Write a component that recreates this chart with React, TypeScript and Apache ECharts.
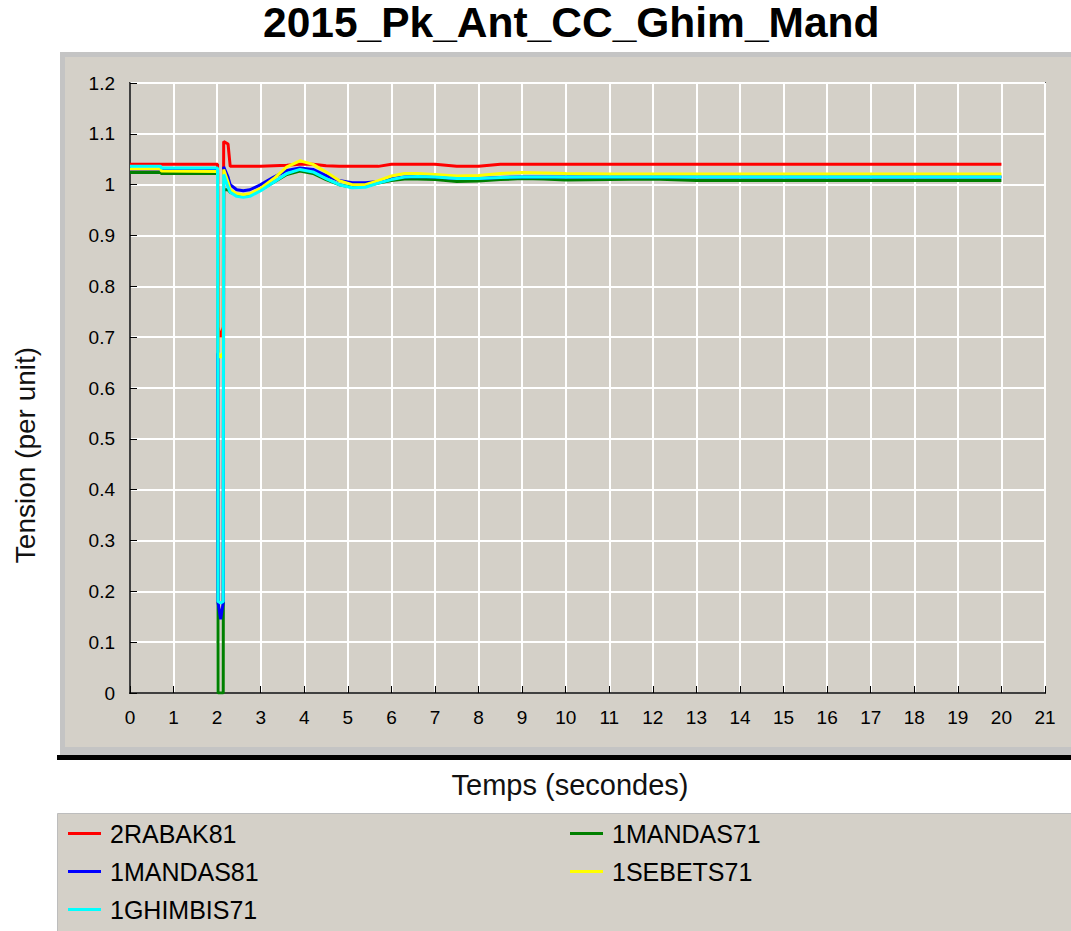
import React, { useEffect, useRef } from "react";
import * as echarts from "echarts";

const FONT = "'Liberation Sans', Arial, Helvetica, sans-serif";

const titleText = "2015_Pk_Ant_CC_Ghim_Mand";
const xAxisName = "Temps (secondes)";
const yAxisName = "Tension (per unit)";

const seriesNames = ["2RABAK81", "1MANDAS71", "1MANDAS81", "1SEBETS71", "1GHIMBIS71"];
const seriesColors = ["#ff0000", "#008000", "#0000ff", "#ffff00", "#00ffff"];
const legendCol1 = ["2RABAK81", "1MANDAS81", "1GHIMBIS71"];
const legendCol2 = ["1MANDAS71", "1SEBETS71"];

// time (s)
const times = [0, 0.7, 0.72, 2.01, 2.02, 2.08, 2.14, 2.15, 2.25, 2.3, 2.45, 2.6, 2.75, 3.0, 3.3, 3.6, 3.9, 4.2, 4.5, 4.8, 5.1, 5.4, 5.7, 6.0, 6.3, 6.6, 7.0, 7.5, 8.0, 8.5, 9.0, 9.5, 10, 11, 12, 13, 15, 17, 20];

const rabak81 = [1.04, 1.04, 1.04, 1.04, 0.72, 0.70, 0.72, 1.085, 1.08, 1.036, 1.036, 1.036, 1.036, 1.036, 1.037, 1.038, 1.04, 1.04, 1.037, 1.036, 1.036, 1.036, 1.036, 1.04, 1.04, 1.04, 1.04, 1.036, 1.036, 1.04, 1.04, 1.04, 1.04, 1.04, 1.04, 1.04, 1.04, 1.04, 1.04];
const mandas71 = [1.024, 1.024, 1.022, 1.022, 0.0, 0.0, 0.0, 0.99, 0.99, 0.985, 0.98, 0.978, 0.98, 0.99, 1.005, 1.02, 1.027, 1.022, 1.01, 1.0, 0.995, 0.997, 1.003, 1.008, 1.011, 1.011, 1.01, 1.006, 1.007, 1.01, 1.012, 1.011, 1.009, 1.01, 1.011, 1.008, 1.008, 1.008, 1.008];
const mandas81 = [1.03, 1.03, 1.03, 1.03, 0.178, 0.145, 0.178, 1.035, 1.015, 1.0, 0.99, 0.988, 0.99, 1.0, 1.015, 1.028, 1.033, 1.03, 1.018, 1.008, 1.004, 1.004, 1.006, 1.012, 1.015, 1.016, 1.015, 1.012, 1.012, 1.014, 1.015, 1.015, 1.015, 1.015, 1.015, 1.015, 1.015, 1.015, 1.015];
const sebets71 = [1.031, 1.031, 1.027, 1.026, 0.67, 0.66, 0.67, 1.03, 1.005, 0.99, 0.982, 0.98, 0.982, 0.993, 1.012, 1.035, 1.047, 1.04, 1.025, 1.008, 1.0, 1.0, 1.008, 1.017, 1.022, 1.022, 1.02, 1.017, 1.018, 1.022, 1.024, 1.023, 1.022, 1.021, 1.021, 1.021, 1.021, 1.021, 1.021];
const ghimbis71 = [1.036, 1.036, 1.033, 1.033, 0.18, 0.177, 0.18, 1.02, 0.995, 0.985, 0.977, 0.975, 0.977, 0.988, 1.005, 1.022, 1.03, 1.025, 1.012, 1.0, 0.994, 0.995, 1.003, 1.01, 1.015, 1.016, 1.015, 1.012, 1.012, 1.014, 1.015, 1.015, 1.015, 1.015, 1.015, 1.015, 1.015, 1.015, 1.015];

const seriesValues = [rabak81, mandas71, mandas81, sebets71, ghimbis71];

const X_MIN = 0;
const X_MAX = 21;
const Y_MIN = 0;
const Y_MAX = 1.2;

export default function App() {
  const ref = useRef<HTMLDivElement>(null);

  useEffect(() => {
    document.body.style.margin = "0";
    const chart = echarts.init(ref.current as HTMLDivElement, null, { renderer: "svg" });

    const legendBase = {
      orient: "vertical",
      top: 821,
      itemWidth: 33,
      itemHeight: 3,
      itemGap: 13,
      icon: "rect",
      padding: 0,
      selectedMode: false,
      textStyle: { fontSize: 25, lineHeight: 24, color: "#000", fontFamily: FONT, padding: [0, 0, 0, 4] },
    };

    const option: any = {
      animation: false,
      backgroundColor: "#ffffff",
      title: {
        text: titleText,
        left: 263,
        top: 1,
        padding: 0,
        textStyle: { fontSize: 42.5, fontWeight: "bold", color: "#000", fontFamily: FONT },
      },
      graphic: [
        { type: "rect", z: -10, shape: { x: 60, y: 52, width: 1011, height: 703 }, style: { fill: "#c4c4c4" } },
        { type: "rect", z: -9, shape: { x: 65, y: 57, width: 1006, height: 690 }, style: { fill: "#d4d0c8" } },
        { type: "rect", z: -9, shape: { x: 57, y: 755, width: 1014, height: 5 }, style: { fill: "#000" } },
        { type: "rect", z: -10, shape: { x: 57.5, y: 813.5, width: 1014, height: 118 }, style: { fill: "#d4d0c8", stroke: "#bdbdbd", lineWidth: 1 } },
        {
          type: "text",
          x: 570,
          y: 785,
          style: { text: xAxisName, fontSize: 29, fontFamily: FONT, fill: "#111", textAlign: "center", textVerticalAlign: "middle" },
        },
        {
          type: "text",
          x: 25,
          y: 455,
          rotation: Math.PI / 2,
          style: { text: yAxisName, fontSize: 28, fontFamily: FONT, fill: "#111", textAlign: "center", textVerticalAlign: "middle" },
        },
      ],
      legend: [
        { ...legendBase, left: 68, data: legendCol1 },
        { ...legendBase, left: 570, data: legendCol2 },
      ],
      grid: {
        left: 130,
        top: 83,
        width: 915,
        height: 610,
        show: true,
        backgroundColor: "#d4d0c8",
        borderColor: "#000",
        borderWidth: 1.5,
      },
      xAxis: {
        type: "value",
        min: X_MIN,
        max: X_MAX,
        interval: 1,
        axisLine: { show: true, onZero: false, lineStyle: { color: "#000", width: 1.5 } },
        axisTick: { show: true, inside: true, length: 7, lineStyle: { color: "#000", width: 1 } },
        axisLabel: { color: "#000", fontSize: 19, fontFamily: FONT, margin: 15 },
        splitLine: { show: true, lineStyle: { color: "#ffffff", width: 2 } },
      },
      yAxis: {
        type: "value",
        min: Y_MIN,
        max: Y_MAX,
        interval: 0.1,
        axisLine: { show: true, onZero: false, lineStyle: { color: "#000", width: 1.5 } },
        axisTick: { show: true, inside: true, length: 7, lineStyle: { color: "#000", width: 1 } },
        axisLabel: {
          color: "#000",
          fontSize: 19,
          fontFamily: FONT,
          margin: 15,
          formatter: (v: number) => String(Math.round(v * 10) / 10),
        },
        splitLine: { show: true, lineStyle: { color: "#ffffff", width: 2 } },
      },
      series: seriesNames.map((name, i) => ({
        name,
        type: "line",
        showSymbol: false,
        symbol: "none",
        color: seriesColors[i],
        lineStyle: { color: seriesColors[i], width: 3, join: "bevel" },
        data: times.map((t, k) => [t, seriesValues[i][k]]),
        z: 2 + i,
      })),
    };

    chart.setOption(option);
    return () => chart.dispose();
  }, []);

  return <div ref={ref} style={{ width: 1071, height: 931 }} />;
}
